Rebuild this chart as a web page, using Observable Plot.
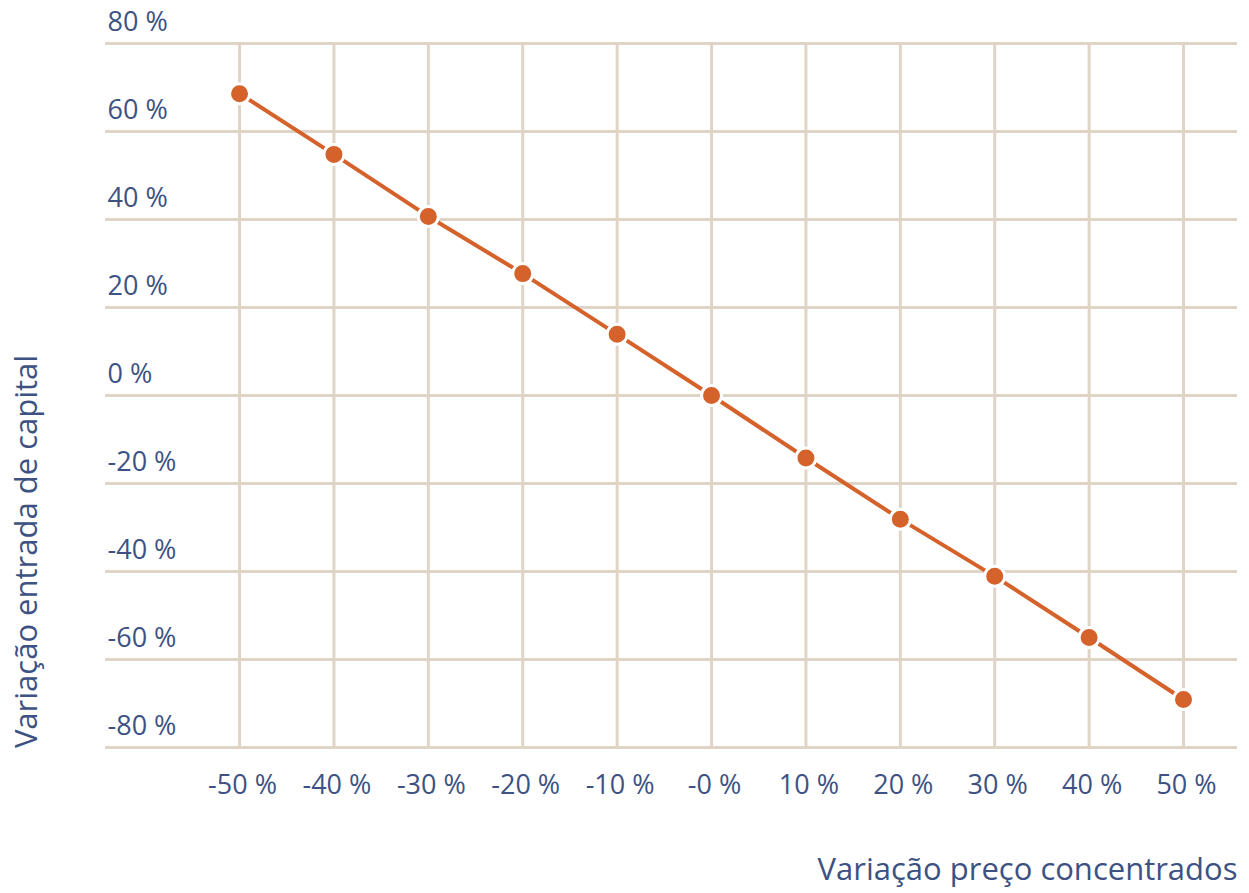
<!DOCTYPE html>
<html>
<head>
<meta charset="utf-8">
<script src="https://cdn.jsdelivr.net/npm/d3@7"></script>
<script src="https://cdn.jsdelivr.net/npm/@observablehq/plot@0.6"></script>
<style>
  html, body { margin: 0; padding: 0; background: #fff; }
  svg { display: block; }
</style>
</head>
<body>
<div id="chart"></div>
<script>
// Data
const priceChange = [-50, -40, -30, -20, -10, 0, 10, 20, 30, 40, 50];
const capitalChange = [68.6, 54.8, 40.7, 27.7, 13.9, 0, -14.2, -28.1, -41.1, -55.0, -69.1];
const xTicks = [-50, -40, -30, -20, -10, 0, 10, 20, 30, 40, 50];
const xTickLabels = ["-50 %", "-40 %", "-30 %", "-20 %", "-10 %", "-0 %", "10 %", "20 %", "30 %", "40 %", "50 %"];
const yTicks = [80, 60, 40, 20, 0, -20, -40, -60, -80];
const yTickLabels = ["80 %", "60 %", "40 %", "20 %", "0 %", "-20 %", "-40 %", "-60 %", "-80 %"];
const xTitle = "Variação preço concentrados";
const yTitle = "Variação entrada de capital";

const points = priceChange.map((x, i) => ({x, y: capitalChange[i]}));
const xTickData = xTicks.map((v, i) => ({v, label: xTickLabels[i]}));
const yTickData = yTicks.map((v, i) => ({v, label: yTickLabels[i]}));

const textColor = "#3d5283";
const gridColor = "#e0d4c6";
const lineColor = "#d4622a";
const font = "'Open Sans', 'Noto Sans', sans-serif";

const chart = Plot.plot({
  width: 1249,
  height: 893,
  marginLeft: 105,
  marginRight: 12,
  marginTop: 43,
  marginBottom: 146,
  style: {fontFamily: font, background: "#fff", overflow: "visible"},
  x: {domain: [-64.2, 55.72], axis: null},
  y: {domain: [-80, 80], axis: null},
  marks: [
    Plot.ruleY(yTicks, {stroke: gridColor, strokeWidth: 3}),
    Plot.ruleX(xTicks, {y1: -80, y2: 80, stroke: gridColor, strokeWidth: 3}),
    Plot.text(yTickData, {
      y: "v", text: "label", frameAnchor: "left", textAnchor: "start",
      dx: 2, dy: -21, fill: textColor, fontSize: 27, lineAnchor: "middle"
    }),
    Plot.text(xTickData, {
      x: "v", y: () => -80, text: "label", textAnchor: "middle",
      dx: 3, dy: 38, fill: textColor, fontSize: 27, lineAnchor: "middle"
    }),
    Plot.line(points, {x: "x", y: "y", stroke: lineColor, strokeWidth: 4}),
    Plot.dot(points, {x: "x", y: "y", r: 10, fill: lineColor, stroke: "#fff", strokeWidth: 3}),
    Plot.text([xTitle], {
      frameAnchor: "bottom-right", text: d => d, textAnchor: "end",
      dy: 123, dx: 0, fill: textColor, fontSize: 31, lineAnchor: "middle"
    }),
    Plot.text([yTitle], {
      frameAnchor: "left", text: d => d, rotate: -90, textAnchor: "middle",
      dx: -78, dy: 156, fill: textColor, fontSize: 31, lineAnchor: "middle"
    })
  ]
});
document.getElementById("chart").appendChild(chart);
</script>
</body>
</html>
